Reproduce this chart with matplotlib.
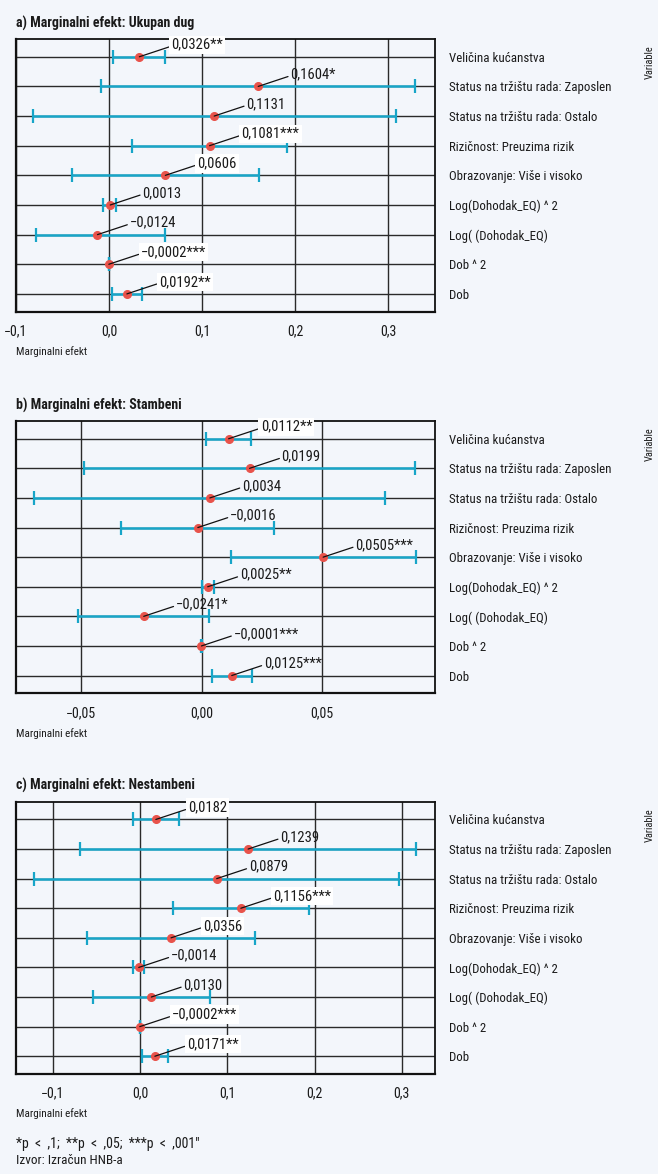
import os
import matplotlib
matplotlib.use("Agg")
import matplotlib.pyplot as plt
from matplotlib import font_manager as fm

# ---------------------------------------------------------------- data
variables = [
    "Veličina kućanstva",
    "Status na tržištu rada: Zaposlen",
    "Status na tržištu rada: Ostalo",
    "Rizičnost: Preuzima rizik",
    "Obrazovanje: Više i visoko",
    "Log(Dohodak_EQ) ^ 2",
    "Log( (Dohodak_EQ)",
    "Dob ^ 2",
    "Dob",
]

# a) Ukupan dug
a_est = [0.0326, 0.1604, 0.1131, 0.1081, 0.0606, 0.0013, -0.0124, -0.0002, 0.0192]
a_lo = [0.0046, -0.0082, -0.0818, 0.0246, -0.0400, -0.0061, -0.0790, -0.0003, 0.0032]
a_hi = [0.0603, 0.3290, 0.3083, 0.1915, 0.1610, 0.0078, 0.0603, -0.0001, 0.0350]
a_sig = ["**", "*", "", "***", "", "", "", "***", "**"]

# b) Stambeni
b_est = [0.0112, 0.0199, 0.0034, -0.0016, 0.0505, 0.0025, -0.0241, -0.0001, 0.0125]
b_lo = [0.0018, -0.0488, -0.0696, -0.0337, 0.0121, 0.0000, -0.0515, -0.0002, 0.0044]
b_hi = [0.0206, 0.0887, 0.0763, 0.0302, 0.0891, 0.0050, 0.0029, 0.0000, 0.0208]
b_sig = ["**", "", "", "", "***", "**", "*", "***", "***"]

# c) Nestambeni
c_est = [0.0182, 0.1239, 0.0879, 0.1156, 0.0356, -0.0014, 0.0130, -0.0002, 0.0171]
c_lo = [-0.0084, -0.0684, -0.1210, 0.0374, -0.0603, -0.0077, -0.0535, -0.0003, 0.0027]
c_hi = [0.0450, 0.3160, 0.2967, 0.1940, 0.1314, 0.0049, 0.0805, -0.0001, 0.0317]
c_sig = ["", "", "", "***", "", "", "", "***", "**"]

a_ticks = [-0.1, 0.0, 0.1, 0.2, 0.3]
a_ticklabels = ["−0,1", "0,0", "0,1", "0,2", "0,3"]
b_ticks = [-0.05, 0.0, 0.05]
b_ticklabels = ["−0,05", "0,00", "0,05"]
c_ticks = [-0.1, 0.0, 0.1, 0.2, 0.3]
c_ticklabels = ["−0,1", "0,0", "0,1", "0,2", "0,3"]

titles = [
    "a) Marginalni efekt: Ukupan dug",
    "b) Marginalni efekt: Stambeni",
    "c) Marginalni efekt: Nestambeni",
]

# labels drawn on a white patch
a_boxed = [True, False, False, True, True, False, False, True, True]
b_boxed = [True, False, False, False, False, False, False, False, False]
c_boxed = [True, False, False, True, True, False, False, True, True]

# ---------------------------------------------------------------- fonts
# prefer a narrow sans face; fall back to DejaVu Sans
NARROW = [
    ("liberationsansnarrow-regular.ttf", "liberationsansnarrow-bold.ttf"),
    ("robotocondensed-regular.ttf", "robotocondensed-bold.ttf"),
    ("notosans-condensed.ttf", "notosans-condensedbold.ttf"),
    ("opensans-condensedregular.ttf", "opensans-condensedbold.ttf"),
    ("dejavusanscondensed.ttf", "dejavusanscondensed-bold.ttf"),
]
files = {os.path.basename(f.fname).lower(): f.fname for f in fm.fontManager.ttflist}
REG_FILE = BOLD_FILE = None
for reg, bold in NARROW:
    if reg in files:
        REG_FILE = files[reg]
        BOLD_FILE = files.get(bold, files[reg])
        break


def font(size, bold=False):
    if REG_FILE is None:
        return fm.FontProperties(family="DejaVu Sans", size=size,
                                 weight="bold" if bold else "normal")
    return fm.FontProperties(fname=BOLD_FILE if bold else REG_FILE, size=size)


# ---------------------------------------------------------------- style
BG = "#F3F6FB"
GRID = "#2a2a2a"
BAR = "#17A5C8"
DOT = "#E8534B"
INK = "#1a1a1a"

W, H = 658, 1174
fig = plt.figure(figsize=(W / 100, H / 100), dpi=100, facecolor=BG)


def fx(x):
    return x / W


def fy(y):
    return 1 - y / H


def fmt(v, s):
    return f"{v:.4f}".replace(".", ",").replace("-", "−") + s


panels = [
    (a_est, a_lo, a_hi, a_sig, a_boxed, a_ticks, a_ticklabels, (-0.1, 0.3505), 39, 311.7),
    (b_est, b_lo, b_hi, b_sig, b_boxed, b_ticks, b_ticklabels, (-0.0772, 0.0970), 421, 693.3),
    (c_est, c_lo, c_hi, c_sig, c_boxed, c_ticks, c_ticklabels, (-0.1420, 0.3380), 801.7, 1074),
]

n = len(variables)
ypos = [n - 1 - i for i in range(n)]

for k, (est, lo, hi, sig, boxed, ticks, tlabels, xlim, top, bottom) in enumerate(panels):
    ax = fig.add_axes([fx(16), fy(bottom), fx(435 - 16), (bottom - top) / H])
    ax.set_facecolor(BG)
    ax.set_xlim(*xlim)
    ax.set_ylim(-0.6, n - 0.4)

    ax.set_xticks(ticks)
    ax.set_xticklabels(tlabels, fontproperties=font(10), color=INK)
    ax.set_yticks(ypos)
    ax.set_yticklabels(variables, fontproperties=font(9.3), color=INK)
    ax.yaxis.tick_right()
    ax.tick_params(axis="x", length=0, pad=9)
    ax.tick_params(axis="y", length=0, pad=10)
    ax.grid(True, color=GRID, lw=1.0, zorder=0)
    ax.set_axisbelow(True)
    for side, sp in ax.spines.items():
        sp.set_color("#111111")
        sp.set_linewidth(1.6 if side in ("left", "bottom") else 1.3)

    err_lo = [e - l for e, l in zip(est, lo)]
    err_hi = [h - e for e, h in zip(est, hi)]
    ax.errorbar(est, ypos, xerr=[err_lo, err_hi], fmt="none", ecolor=BAR,
                elinewidth=1.8, capsize=5, capthick=1.6, zorder=3)
    ax.plot(est, ypos, "o", color=DOT, ms=5.5, zorder=4)

    for v, y, s, b in zip(est, ypos, sig, boxed):
        ax.annotate(
            fmt(v, s), xy=(v, y), xytext=(32, 12), textcoords="offset pixels",
            ha="left", va="center", fontproperties=font(10.5), color=INK, zorder=5,
            bbox=dict(boxstyle="square,pad=0.15", fc="white" if b else "none", ec="none"),
            arrowprops=dict(arrowstyle="-", color="#111111", lw=0.9,
                            shrinkA=0, shrinkB=0, relpos=(0, 0.4)),
        )

    fig.text(fx(16), fy(top - 16), titles[k], ha="left", va="center",
             fontproperties=font(10, bold=True), color=INK)
    fig.text(fx(16), fy(bottom + 40), "Marginalni efekt", ha="left", va="center",
             fontproperties=font(8), color=INK)
    fig.text(fx(650), fy(top + 23), "Variable", ha="center", va="center",
             rotation=90, fontproperties=font(7.5), color=INK)

fig.text(fx(16), fy(1144), "*p  <  ,1;  **p  <  ,05;  ***p  <  ,001\"", ha="left",
         va="center", fontproperties=font(10), color=INK)
fig.text(fx(16), fy(1161), "Izvor: Izračun HNB-a", ha="left", va="center",
         fontproperties=font(9.5), color=INK)

fig.savefig("out.png", dpi=100, facecolor=BG)
